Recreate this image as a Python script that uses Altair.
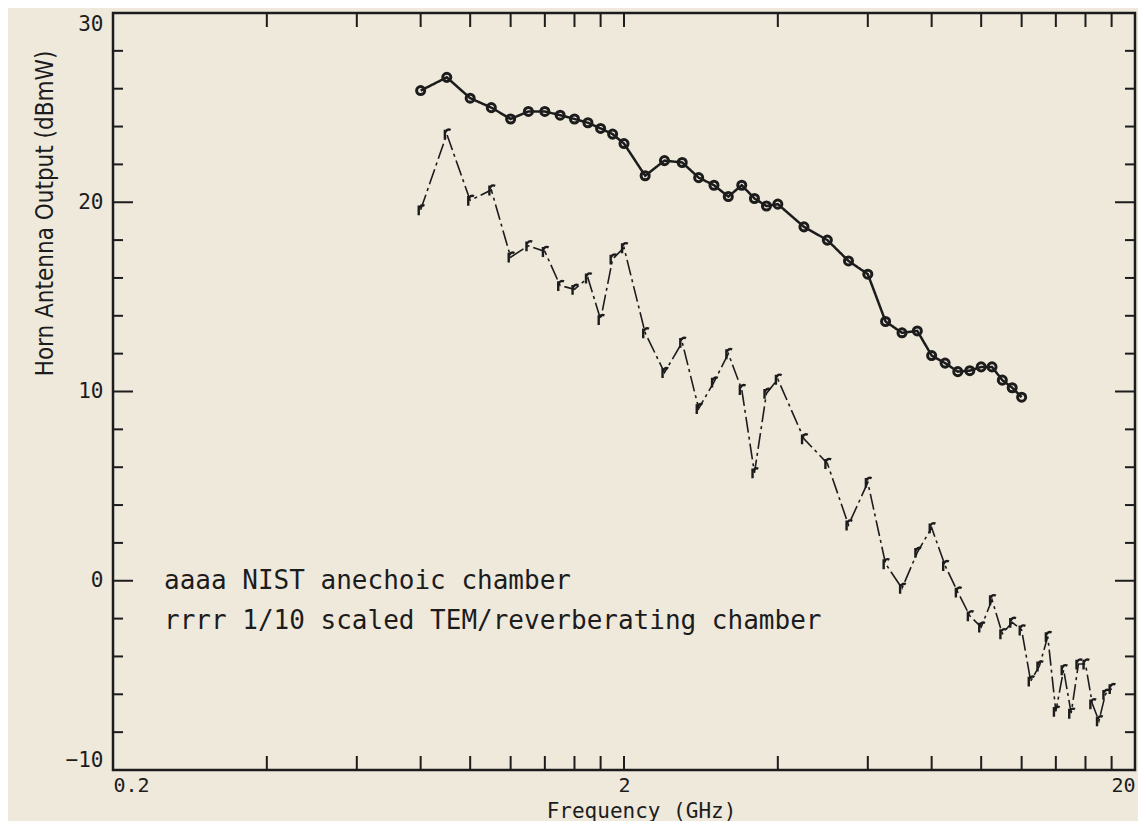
import altair as alt
import pandas as pd

# ---- data ----
anech_f = [0.8, 0.9, 1.0, 1.1, 1.2, 1.3, 1.4, 1.5, 1.6, 1.7, 1.8, 1.9, 2.0,
           2.2, 2.4, 2.6, 2.8, 3.0, 3.2, 3.4, 3.6, 3.8, 4.0,
           4.5, 5.0, 5.5, 6.0, 6.5, 7.0, 7.5, 8.0, 8.5, 9.0, 9.5, 10.0,
           10.5, 11.0, 11.5, 12.0]
anech_db = [25.9, 26.6, 25.5, 25.0, 24.4, 24.8, 24.8, 24.6, 24.4, 24.2, 23.9, 23.6, 23.1,
            21.4, 22.2, 22.1, 21.3, 20.9, 20.3, 20.9, 20.2, 19.8, 19.9,
            18.7, 18.0, 16.9, 16.2, 13.7, 13.1, 13.2, 11.9, 11.5, 11.05, 11.1, 11.3,
            11.3, 10.6, 10.2, 9.7]

rev_f = [0.8, 0.9, 1.0, 1.1, 1.2, 1.3, 1.4, 1.5, 1.6, 1.7, 1.8, 1.9, 2.0,
         2.2, 2.4, 2.6, 2.8, 3.0, 3.2, 3.4, 3.6, 3.8, 4.0,
         4.5, 5.0, 5.5, 6.0, 6.5, 7.0, 7.5, 8.0, 8.5, 9.0, 9.5, 10.0,
         10.5, 11.0, 11.5, 12.0, 12.5, 13.0, 13.5, 14.0, 14.5, 15.0,
         15.5, 16.0, 16.5, 17.0, 17.5, 18.0]
rev_db = [19.6, 23.6, 20.1, 20.65, 17.1, 17.7, 17.4, 15.6, 15.4, 16.0, 13.8, 17.0, 17.6,
          13.1, 11.0, 12.6, 9.1, 10.5, 12.0, 10.1, 5.7, 9.9, 10.65,
          7.5, 6.2, 2.95, 5.2, 0.9, -0.4, 1.5, 2.8, 0.8, -0.6, -1.85, -2.45,
          -1.0, -2.8, -2.2, -2.6, -5.3, -4.5, -2.95, -6.9, -4.7, -7.0,
          -4.4, -4.4, -6.5, -7.4, -6.0, -5.7]

series_names = ["NIST anechoic chamber", "1/10 scaled TEM/reverberating chamber"]

x_ticks = [0.2, 0.4, 0.6, 0.8, 1.0, 1.2, 1.4, 1.6, 1.8, 2.0,
           4, 6, 8, 10, 12, 14, 16, 18, 20]
x_labels = [0.2, 2, 20]
y_ticks_minor = [-8, -6, -4, -2, 2, 4, 6, 8, 12, 14, 16, 18, 22, 24, 26, 28]
y_ticks_major = [0, 10, 20]
y_labels = [-10, 0, 10, 20, 30]

W, H = 1022, 757
INK = "#1c1c1c"
BG = "#efe9dc"

df = pd.concat([
    pd.DataFrame({"f": anech_f, "db": anech_db, "series": series_names[0]}),
    pd.DataFrame({"f": rev_f, "db": rev_db, "series": series_names[1]}),
], ignore_index=True)

xs = alt.Scale(type="log", domain=[0.2, 20], nice=False)
ys = alt.Scale(domain=[-10, 30], nice=False, zero=False)

X = alt.X("f:Q", scale=xs, title="Frequency (GHz)",
          axis=alt.Axis(values=x_labels, ticks=False, domain=False, grid=False,
                        labelFlush=True, labelPadding=5, labelFontSize=20,
                        labelFont="DejaVu Sans Mono", labelColor=INK,
                        format="~g",
                        titleFont="DejaVu Sans Mono", titleFontSize=21,
                        titleFontWeight="normal", titleColor=INK,
                        titleX=528, titleY=47, titleBaseline="alphabetic"))
Y = alt.Y("db:Q", scale=ys, title="Horn Antenna Output (dBmW)",
          axis=alt.Axis(values=y_labels, ticks=False, domain=False, grid=False,
                        labelFlush=True, labelPadding=10, labelFontSize=21,
                        labelFont="DejaVu Sans Mono", labelColor=INK,
                        titleFont="Liberation Sans Narrow, DejaVu Sans Condensed, Roboto, sans-serif",
                        titleFontSize=24, titleFontWeight="normal", titleColor=INK,
                        titleX=-68, titleY=200, titleAngle=270,
                        titleAlign="center", titleBaseline="middle"))

color = alt.Color("series:N",
                  scale=alt.Scale(domain=series_names, range=[INK, INK]),
                  legend=alt.Legend(orient="none", legendX=25, legendY=555,
                                    title=None, symbolSize=0, symbolOpacity=0,
                                    symbolStrokeWidth=0, labelOffset=0, padding=0,
                                    rowPadding=14, labelFontSize=26,
                                    labelFont="DejaVu Sans Mono", labelColor=INK,
                                    labelLimit=900,
                                    labelExpr="(datum.label == 'NIST anechoic chamber' ? 'aaaa  ' : 'rrrr  ') + datum.label"))

base = alt.Chart(df)

lines = base.mark_line().encode(
    x=X, y=Y, color=color,
    strokeDash=alt.StrokeDash("series:N", scale=alt.Scale(domain=series_names,
                              range=[[1, 0], [16, 4, 3, 4]]), legend=None),
    strokeWidth=alt.StrokeWidth("series:N", scale=alt.Scale(domain=series_names,
                                range=[2.5, 1.6]), legend=None),
)

pts_a = base.transform_filter(alt.datum.series == series_names[0]).mark_point(
    shape="circle", filled=False, size=65, strokeWidth=3, color=INK, opacity=1
).encode(x="f:Q", y="db:Q")

r_shape = "M-0.35,1 L-0.35,-0.8 M-0.35,-0.2 C-0.15,-0.8 0.3,-0.95 0.7,-0.75"
pts_r = base.transform_filter(alt.datum.series == series_names[1]).mark_point(
    shape=r_shape, filled=False, size=120, strokeWidth=2.4, color=INK, opacity=1
).encode(x="f:Q", y="db:Q")

# tick marks (inward) on all four sides
xt = alt.Chart(pd.DataFrame({"t": x_ticks}))
ticks_bottom = xt.mark_rule(color=INK, strokeWidth=2).encode(
    x=alt.X("t:Q", scale=xs), y=alt.value(H), y2=alt.value(H - 14))
ticks_top = xt.mark_rule(color=INK, strokeWidth=2).encode(
    x=alt.X("t:Q", scale=xs), y=alt.value(0), y2=alt.value(14))

ymn = alt.Chart(pd.DataFrame({"t": y_ticks_minor}))
ymj = alt.Chart(pd.DataFrame({"t": y_ticks_major}))
ticks_left_minor = ymn.mark_rule(color=INK, strokeWidth=2).encode(
    y=alt.Y("t:Q", scale=ys), x=alt.value(0), x2=alt.value(10))
ticks_right_minor = ymn.mark_rule(color=INK, strokeWidth=2).encode(
    y=alt.Y("t:Q", scale=ys), x=alt.value(W), x2=alt.value(W - 10))
ticks_left_major = ymj.mark_rule(color=INK, strokeWidth=2).encode(
    y=alt.Y("t:Q", scale=ys), x=alt.value(0), x2=alt.value(20))
ticks_right_major = ymj.mark_rule(color=INK, strokeWidth=2).encode(
    y=alt.Y("t:Q", scale=ys), x=alt.value(W), x2=alt.value(W - 20))

chart = alt.layer(
    lines, pts_a, pts_r,
    ticks_bottom, ticks_top,
    ticks_left_minor, ticks_right_minor, ticks_left_major, ticks_right_major,
).properties(
    width=W, height=H,
    autosize=alt.AutoSizeParams(type="none"),
    padding={"left": 105, "top": 5, "right": 3, "bottom": 51},
    background=BG,
).configure_view(
    stroke=INK, strokeWidth=2.5, fill=BG,
)

chart.save("out.html", embed_options={"renderer": "svg", "actions": False})
